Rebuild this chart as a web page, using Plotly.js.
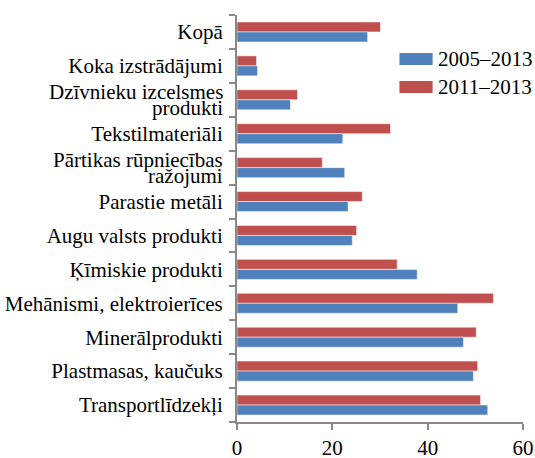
<!DOCTYPE html>
<html>
<head>
<meta charset="utf-8">
<script src="https://cdn.plot.ly/plotly-3.0.1.min.js"></script>
<style>html,body{margin:0;padding:0;background:#fff;}#chart{width:535px;height:458px;}</style>
</head>
<body>
<div id="chart"></div>
<script>
const categories = [
  "Kopā",
  "Koka izstrādājumi",
  "Dzīvnieku izcelsmes produkti",
  "Tekstilmateriāli",
  "Pārtikas rūpniecības ražojumi",
  "Parastie metāli",
  "Augu valsts produkti",
  "Ķīmiskie produkti",
  "Mehānismi, elektroierīces",
  "Minerālprodukti",
  "Plastmasas, kaučuks",
  "Transportlīdzekļi"
];
const tickLabelLines = [
  ["Kopā"],
  ["Koka izstrādājumi"],
  ["Dzīvnieku izcelsmes", "produkti"],
  ["Tekstilmateriāli"],
  ["Pārtikas rūpniecības", "ražojumi"],
  ["Parastie metāli"],
  ["Augu valsts produkti"],
  ["Ķīmiskie produkti"],
  ["Mehānismi, elektroierīces"],
  ["Minerālprodukti"],
  ["Plastmasas, kaučuks"],
  ["Transportlīdzekļi"]
];
const values2005_2013 = [27.4, 4.3, 11.2, 22.2, 22.6, 23.3, 24.2, 37.8, 46.3, 47.5, 49.6, 52.6];
const values2011_2013 = [30.1, 4.1, 12.7, 32.2, 17.9, 26.3, 25.1, 33.6, 53.8, 50.2, 50.5, 51.1];
const seriesNames = ["2005–2013", "2011–2013"];
const seriesColors = ["#4F81BD", "#C0504D"];
const xTicks = [0, 20, 40, 60];

const FS = 21;
function mkFont() { return {family: "Liberation Serif", size: FS, color: "#000"}; }

const traces = [
  {type: "bar", orientation: "h", name: seriesNames[1], y: categories, x: values2011_2013,
   marker: {color: seriesColors[1], line: {color: "rgba(255,255,255,0.5)", width: 1}}},
  {type: "bar", orientation: "h", name: seriesNames[0], y: categories, x: values2005_2013,
   marker: {color: seriesColors[0], line: {color: "rgba(255,255,255,0.5)", width: 1}}}
];

// single-line labels go through the axis; two-line labels as compact annotations
const tickText = tickLabelLines.map(l => l.length === 1 ? l[0] : "");
const annotations = [];
tickLabelLines.forEach((lines, i) => {
  if (lines.length > 1) {
    lines.forEach((t, j) => {
      annotations.push({
        xref: "paper", yref: "y", x: 0, y: categories[i], text: t,
        xanchor: "right", yanchor: "middle", showarrow: false,
        xshift: -13, yshift: 8 - 16.5 * j, font: mkFont(), borderpad: 0
      });
    });
  }
});

// custom legend (wide swatches like the reference)
const shapes = [];
const legendX0 = 0.568, legendX1 = 0.684, legendTextX = 0.700;
const legendRowsY = [0.892, 0.823];
seriesNames.forEach((n, k) => {
  const yc = legendRowsY[k];
  shapes.push({type: "rect", xref: "paper", yref: "paper", x0: legendX0, x1: legendX1,
               y0: yc - 0.0148, y1: yc + 0.0148, fillcolor: seriesColors[k], line: {width: 0}});
  annotations.push({xref: "paper", yref: "paper", x: legendTextX, y: yc, text: n,
                    xanchor: "left", yanchor: "middle", showarrow: false, font: mkFont(), borderpad: 0});
});

const layout = {
  width: 535, height: 458,
  margin: {l: 237, r: 12, t: 15, b: 36},
  paper_bgcolor: "#fff", plot_bgcolor: "#fff",
  font: mkFont(),
  barmode: "group",
  bargap: 0.41,
  bargroupgap: 0,
  showlegend: false,
  shapes: shapes,
  annotations: annotations,
  xaxis: {range: [0, 60], tickvals: xTicks, ticktext: xTicks.map(String),
          showgrid: false, zeroline: false, showline: true, linecolor: "#898989", linewidth: 2,
          ticks: "outside", ticklen: 6, tickcolor: "#898989", tickwidth: 2, tickfont: mkFont(),
          ticklabelstandoff: 0},
  yaxis: {type: "category", autorange: "reversed", showgrid: false, zeroline: false,
          showline: true, linecolor: "#898989", linewidth: 2,
          tickvals: categories, ticktext: tickText,
          ticks: "outside", tickson: "boundaries", ticklen: 6, tickcolor: "#898989", tickwidth: 2,
          tickfont: mkFont(), ticklabelstandoff: 8}
};

Plotly.newPlot("chart", traces, layout, {displayModeBar: false, staticPlot: true});
</script>
</body>
</html>
